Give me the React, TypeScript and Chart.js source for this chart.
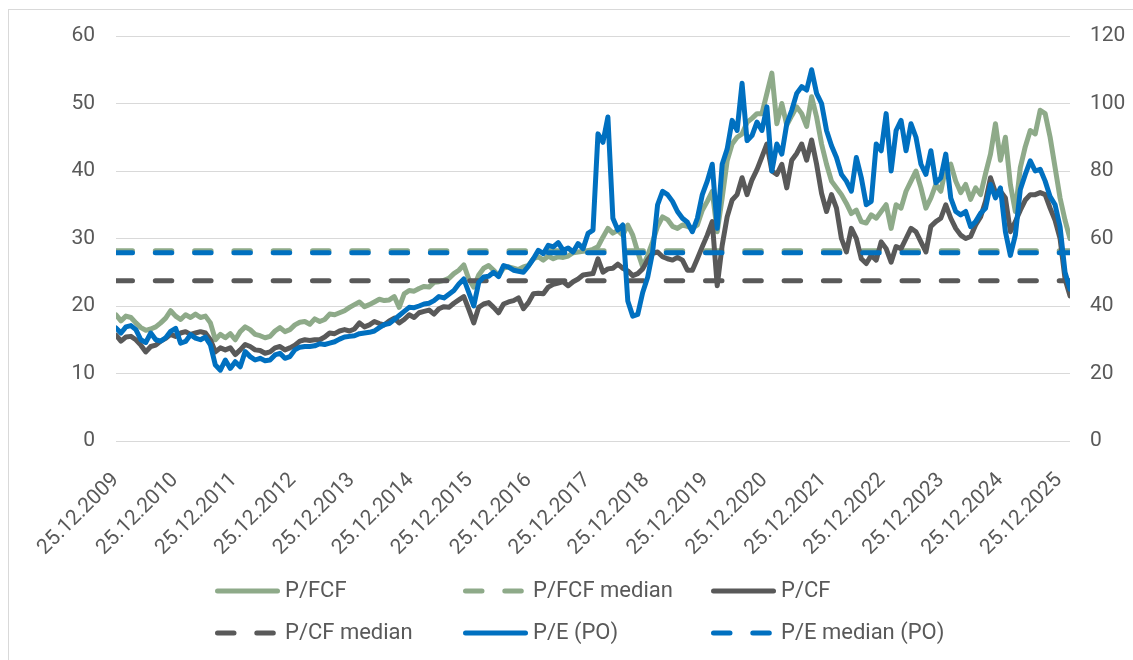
import { useEffect, useRef } from "react";
import { Chart, registerables } from "chart.js";

Chart.register(...registerables);

// x positions: readings taken about every 30.8 days starting 25.12.2009 (in years since start)
const START_YEAR = 2009;
const SAMPLE_STEP_YEARS = 0.08431;
const YEAR_TICK_COUNT = 16;

const pFcf = [
  18.7, 17.8, 18.5, 18.3, 17.5, 16.8, 16.4, 16.6, 16.9, 17.5, 18.2, 19.3, 18.5, 18.0, 18.7, 18.3, 18.8, 18.3, 18.5, 17.5,
  15.0, 15.8, 15.3, 15.9, 15.0, 16.2, 16.9, 16.5, 15.8, 15.6, 15.3, 15.5, 16.3, 16.8, 16.2, 16.5, 17.2, 17.6, 17.7, 17.3,
  18.1, 17.7, 18.0, 18.8, 18.7, 19.0, 19.3, 19.8, 20.2, 20.6, 19.9, 20.2, 20.6, 21.0, 20.8, 20.9, 21.4, 19.8, 21.8, 22.3,
  22.2, 22.6, 22.9, 22.8, 23.5, 23.6, 23.8, 24.1, 24.8, 25.3, 26.1, 24.0, 22.8, 24.6, 25.6, 26.0, 25.3, 24.5, 25.6, 25.8,
  25.6, 25.4, 25.8, 26.0, 27.0, 27.3, 26.8, 27.4, 27.0, 27.3, 27.2, 27.4, 27.9, 28.0, 28.1, 28.2, 28.4, 28.8, 30.2, 31.5,
  30.8, 31.2, 30.5, 32.0, 30.5, 28.0, 25.8, 27.5, 29.5, 31.8, 33.2, 32.8, 31.8, 31.5, 32.0, 31.8, 31.5, 32.0, 34.2, 35.5,
  37.0, 31.0, 36.0, 41.5, 44.0, 45.0, 45.5, 47.2, 47.8, 48.5, 48.5, 51.5, 54.5, 47.0, 50.0, 46.8, 48.2, 49.5, 48.5, 46.6,
  51.0, 48.0, 44.0, 41.0, 38.5, 37.5, 36.5, 35.2, 33.7, 34.2, 32.5, 32.3, 33.5, 33.0, 34.0, 35.0, 31.5, 35.0, 34.5, 37.0,
  38.5, 40.0, 37.5, 34.5, 36.0, 38.0, 37.0, 40.5, 41.0, 38.5, 36.8, 38.0, 35.8, 37.5, 36.5, 39.6, 42.5, 47.0, 41.6, 45.0,
  38.0, 34.0, 40.5, 43.6, 46.0, 45.5, 49.0, 48.5, 45.0, 40.5, 36.0, 32.7, 30.0,
];

const pCf = [
  15.7, 14.8, 15.4, 15.5, 15.0, 14.2, 13.2, 14.0, 14.2, 14.8, 15.2, 15.8, 15.5, 16.0, 16.2, 15.8, 16.0, 16.2, 16.0, 15.0,
  13.2, 13.8, 13.5, 13.8, 12.8, 13.5, 14.3, 14.0, 13.5, 13.4, 13.0, 13.2, 13.8, 14.0, 13.5, 13.8, 14.2, 14.8, 15.0, 14.9,
  15.0, 15.0, 15.4, 16.0, 15.9, 16.3, 16.5, 16.3, 16.6, 17.5, 16.9, 17.2, 17.7, 17.4, 17.2, 17.8, 18.2, 17.5, 18.0, 18.7,
  18.3, 19.0, 19.2, 19.4, 18.8, 19.6, 19.9, 19.8, 20.4, 20.9, 21.4, 19.5, 17.5, 19.8, 20.3, 20.5, 19.8, 19.0, 20.3, 20.6,
  20.8, 21.2, 19.6, 20.5, 21.8, 21.9, 21.8, 22.8, 23.2, 23.4, 23.6, 23.0, 23.6, 24.0, 24.6, 24.7, 24.8, 27.0, 25.0, 25.5,
  25.6, 26.2, 25.6, 25.2, 24.5, 24.8, 25.5, 26.8, 27.8, 28.0, 27.3, 27.0, 26.8, 27.2, 26.8, 25.3, 25.3, 27.0, 28.8, 30.5,
  32.5, 23.0, 29.0, 33.2, 35.7, 36.5, 39.0, 36.5, 38.7, 40.2, 42.1, 44.0, 40.0, 39.5, 41.0, 37.5, 41.6, 42.6, 44.0, 41.6,
  44.6, 41.0, 36.7, 34.0, 36.5, 34.5, 30.0, 28.0, 31.5, 30.0, 27.0, 26.3, 27.5, 26.8, 29.5, 28.5, 26.5, 28.8, 28.5, 30.0,
  31.5, 31.0, 29.5, 28.0, 31.8, 32.5, 33.0, 35.0, 33.0, 31.5, 30.5, 30.0, 30.3, 32.0, 33.2, 35.5, 39.0, 36.8, 37.0, 36.0,
  31.0, 32.5, 34.2, 35.7, 36.5, 36.5, 36.8, 36.5, 34.5, 32.7, 30.0, 24.0, 21.5,
];

const pE = [
  33.5, 32.0, 33.8, 34.2, 33.0, 30.0, 29.2, 32.0, 30.0, 29.6, 30.6, 32.5, 33.4, 29.0, 29.5, 31.5, 30.5, 30.0, 30.8, 28.5,
  22.5, 21.0, 24.0, 21.5, 23.5, 22.0, 26.5, 25.0, 24.0, 24.5, 23.8, 24.0, 25.5, 26.0, 24.5, 25.0, 27.0, 27.8, 28.0, 28.0,
  28.2, 28.8, 28.6, 29.0, 29.4, 30.2, 30.8, 31.0, 31.2, 31.8, 32.0, 32.2, 32.6, 33.6, 34.5, 34.8, 36.0, 37.2, 38.4, 39.6,
  39.5, 40.0, 40.6, 40.8, 41.6, 42.8, 42.4, 43.5, 44.6, 46.5, 48.0, 44.0, 40.0, 47.0, 48.6, 48.8, 50.0, 48.7, 52.0, 51.5,
  50.6, 50.3, 50.0, 51.8, 54.0, 56.5, 55.5, 58.0, 57.5, 58.8, 56.5, 57.2, 56.0, 58.5, 57.0, 61.5, 62.5, 91.0, 88.5, 96.0,
  66.0, 62.5, 64.0, 41.5, 37.0, 37.5, 44.0, 48.5, 56.0, 70.0, 74.0, 73.0, 71.0, 68.0, 66.0, 64.8, 62.0, 66.0, 73.0, 77.0,
  82.0, 63.0, 82.0, 86.5, 95.0, 92.0, 106.0, 89.0, 90.5, 94.5, 92.0, 99.0, 80.0, 88.0, 85.0, 94.0, 98.0, 103.0, 105.0, 104.0,
  110.0, 103.0, 100.0, 92.0, 87.5, 84.0, 79.0, 77.0, 74.0, 84.0, 78.0, 70.0, 71.0, 88.0, 86.0, 97.0, 80.0, 92.0, 95.0, 86.0,
  94.0, 90.0, 82.0, 79.0, 86.0, 76.5, 78.0, 85.0, 72.0, 68.0, 67.0, 68.0, 63.5, 65.0, 67.5, 69.0, 76.0, 72.0, 75.0, 62.0,
  55.0, 61.0, 74.5, 79.0, 83.0, 80.0, 80.5, 77.0, 72.4, 70.0, 63.5, 50.0, 45.0,
];

const pFcfMedian = 28.2;
const pCfMedian = 23.75;
const pEMedian = 55.8;

const leftTicks = { min: 0, max: 60, step: 10 };
const rightTicks = { min: 0, max: 120, step: 20 };

const GREEN = "#8EAA89";
const GRAY = "#595959";
const BLUE = "#0070C0";
const TEXT = "#595959";
const DASH = [16.5, 22.8];

const lastX = (pFcf.length - 1) * SAMPLE_STEP_YEARS;
const toPoints = (arr: number[]) => arr.map((v, j) => ({ x: j * SAMPLE_STEP_YEARS, y: v }));
const flat = (v: number) => [
  { x: 0, y: v },
  { x: lastX, y: v },
];

const legendOrder = [0, 1, 2, 3, 4, 5];
const legendCols = [215, 463, 711];
const legendRows = [591, 633];

const gridLegend = {
  id: "gridLegend",
  afterDraw(chart: any) {
    const ctx = chart.ctx as CanvasRenderingContext2D;
    ctx.save();
    legendOrder.forEach((dsIndex, k) => {
      const ds = chart.data.datasets[dsIndex];
      const cx = legendCols[k % 3];
      const cy = legendRows[Math.floor(k / 3)];
      ctx.beginPath();
      ctx.lineWidth = 5;
      ctx.lineCap = "round";
      ctx.strokeStyle = ds.borderColor;
      ctx.setLineDash(ds.borderDash || []);
      ctx.moveTo(cx + 2.5, cy);
      ctx.lineTo(cx + 62.5, cy);
      ctx.stroke();
      ctx.setLineDash([]);
      ctx.fillStyle = TEXT;
      ctx.font = "22px Roboto";
      ctx.textBaseline = "middle";
      ctx.textAlign = "left";
      ctx.fillText(ds.label, cx + 70, cy);
    });
    ctx.restore();
  },
};

export default function App() {
  const ref = useRef<HTMLCanvasElement | null>(null);

  useEffect(() => {
    if (!ref.current) return;
    const font = { family: "Roboto", size: 21 };
    const solid = (label: string, data: number[], color: string, axis: string, order: number) => ({
      label,
      data: toPoints(data),
      borderColor: color,
      backgroundColor: color,
      borderWidth: 5,
      pointRadius: 0,
      borderJoinStyle: "round" as const,
      borderCapStyle: "round" as const,
      tension: 0,
      yAxisID: axis,
      order,
    });
    const dashed = (label: string, v: number, color: string, axis: string, order: number) => ({
      label,
      data: flat(v),
      borderColor: color,
      backgroundColor: color,
      borderWidth: 5,
      borderDash: DASH,
      borderCapStyle: "round" as const,
      pointRadius: 0,
      yAxisID: axis,
      order,
    });
    const chart = new Chart(ref.current, {
      type: "line",
      data: {
        datasets: [
          solid("P/FCF", pFcf, GREEN, "y", 5),
          dashed("P/FCF median", pFcfMedian, GREEN, "y", 4),
          solid("P/CF", pCf, GRAY, "y", 3),
          dashed("P/CF median", pCfMedian, GRAY, "y", 2),
          solid("P/E (PO)", pE, BLUE, "y1", 1),
          dashed("P/E median (PO)", pEMedian, BLUE, "y1", 0),
        ] as any,
      },
      options: {
        responsive: false,
        animation: false,
        devicePixelRatio: 1,
        layout: { padding: { top: 36, left: 0, right: 0, bottom: 0 } },
        plugins: { legend: { display: false }, tooltip: { enabled: false } },
        scales: {
          x: {
            type: "linear",
            min: 0,
            max: lastX,
            grid: { display: false },
            border: { display: false },
            ticks: {
              stepSize: 1,
              includeBounds: false,
              autoSkip: false,
              maxRotation: 45,
              minRotation: 45,
              padding: 19,
              font,
              color: TEXT,
              callback: (v: any) =>
                Number.isInteger(v) && v <= YEAR_TICK_COUNT ? `25.12.${START_YEAR + v}` : "",
            },
            afterFit: (s: any) => {
              s.height = 219;
            },
          },
          y: {
            position: "left",
            min: leftTicks.min,
            max: leftTicks.max,
            grid: { color: "#d9d9d9", lineWidth: 1, drawTicks: false },
            border: { display: false },
            ticks: { stepSize: leftTicks.step, padding: 21, font, color: TEXT },
            afterFit: (s: any) => {
              s.width = 116;
            },
          },
          y1: {
            position: "right",
            min: rightTicks.min,
            max: rightTicks.max,
            grid: { display: false, drawTicks: false },
            border: { display: false },
            ticks: { stepSize: rightTicks.step, padding: 20, font, color: TEXT },
            afterFit: (s: any) => {
              s.width = 63;
            },
          },
        },
      },
      plugins: [gridLegend],
    });
    return () => chart.destroy();
  }, []);

  return (
    <div
      style={{
        position: "absolute",
        left: 0,
        top: 0,
        width: 1133,
        height: 660,
        overflow: "hidden",
        background: "#fff",
      }}
    >
      <div
        style={{
          position: "absolute",
          left: 8,
          top: 9,
          width: 1140,
          height: 700,
          border: "1px solid #d9d9d9",
        }}
      />
      <canvas ref={ref} width={1133} height={660} style={{ position: "absolute", left: 0, top: 0 }} />
    </div>
  );
}
